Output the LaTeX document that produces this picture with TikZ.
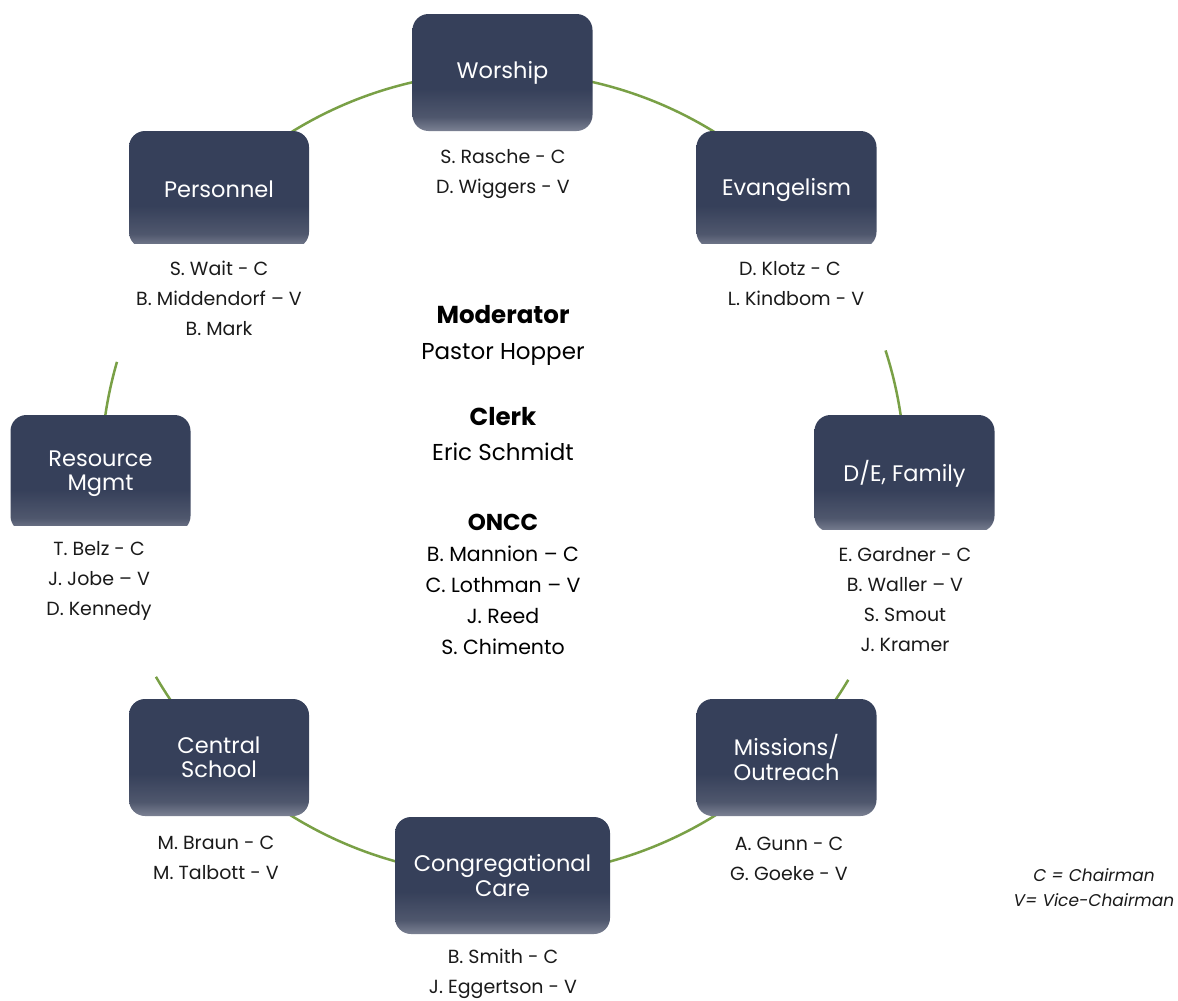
\documentclass[tikz,border=0pt]{standalone}
\usepackage{fontspec}
\setmainfont{Poppins}
\definecolor{boxdark}{HTML}{36405A}
\definecolor{boxmid}{HTML}{4F576D}
\definecolor{boxlight}{HTML}{7B8193}
\definecolor{ringgreen}{HTML}{79A046}
\definecolor{inktext}{HTML}{1A1A1A}
\pgfdeclareverticalshading{boxshade}{100bp}{color(0bp)=(boxlight); color(25bp)=(boxlight); color(31bp)=(boxmid); color(43bp)=(boxdark); color(100bp)=(boxdark)}
\begin{document}
\begin{tikzpicture}[x=1pt,y=1pt,
  committee/.style={rounded corners=16pt, shading=boxshade, minimum width=180pt, minimum height=117pt, text=white, align=center, font=\fontsize{22.5}{24.5}\selectfont, inner sep=0pt},
  members/.style={align=center, font=\fontsize{19}{30}\selectfont, text=inktext, inner sep=0pt},
  officer/.style={align=center, text=black, inner sep=0pt},
  ring/.style={draw=ringgreen, line width=2.5pt},
  legendtext/.style={align=center, font=\fontsize{17}{25}\selectfont\itshape, text=inktext, inner sep=0pt}]
\useasboundingbox (0,0) rectangle (1178,-1001);
\coordinate (ctr) at (503,-474);

% ring segments
\draw[ring] ([shift={(45:402pt)}]ctr) arc[start angle=45,end angle=135,radius=402pt];
\draw[ring] ([shift={(163.8:402pt)}]ctr) arc[start angle=163.8,end angle=180,radius=402pt];
\draw[ring] ([shift={(210.3:402pt)}]ctr) arc[start angle=210.3,end angle=315,radius=402pt];
\draw[ring] ([shift={(315:402pt)}]ctr) arc[start angle=315,end angle=329.2,radius=402pt];
\draw[ring] ([shift={(0:402pt)}]ctr) arc[start angle=0,end angle=17.9,radius=402pt];

% committee boxes
\node[committee] (worship) at (502.5,-72.5) {\raisebox{-3pt}{Worship}};
\node[committee] (evang) at (786.5,-189.5) {\raisebox{-3pt}{Evangelism}};
\node[committee] (pers) at (219,-189.5) {\raisebox{-3pt}{Personnel}};
\node[committee] (res) at (100.5,-473.5) {Resource\\Mgmt};
\node[committee] (de) at (904.5,-473.5) {\raisebox{-2pt}{D/E, Family}};
\node[committee] (cs) at (219,-757.5) {Central\\School};
\node[committee] (miss) at (786.5,-757.5) {Missions/\\Outreach};
\node[committee, minimum width=215pt] (care) at (502.5,-875.5) {Congregational\\Care};

% flat cut bottoms where the member lists overlap
\fill[white] ([xshift=-1pt,yshift=4pt]pers.south west) rectangle ([xshift=1pt,yshift=-2pt]pers.south east);
\fill[white] ([xshift=-1pt,yshift=4pt]evang.south west) rectangle ([xshift=1pt,yshift=-2pt]evang.south east);
\fill[white] ([xshift=-1pt,yshift=6.5pt]res.south west) rectangle ([xshift=1pt,yshift=-2pt]res.south east);
\fill[white] ([xshift=-1pt,yshift=2pt]de.south west) rectangle ([xshift=1pt,yshift=-2pt]de.south east);

% member lists
\node[members] (worshipm) at (503,-174.5) {S. Rasche - C\\D. Wiggers - V};
\node[members] (evangm) at (790,-283.5) {D. Klotz - C\\\hspace{12pt}L. Kindbom - V};
\node[members] (persm) at (219,-298.5) {S. Wait - C\\B. Middendorf – V\\B. Mark};
\node[members] (resm) at (99,-580.5) {T. Belz - C\\J. Jobe – V\\D. Kennedy};
\node[members] (dem) at (905,-599.5) {E. Gardner - C\\B. Waller – V\\S. Smout\\J. Kramer};
\node[members] (csm) at (216,-857.5) {M. Braun - C\\M. Talbott - V};
\node[members] (missm) at (789,-859) {A. Gunn - C\\G. Goeke - V};
\node[members] (carem) at (503,-973.5) {B. Smith - C\\J. Eggertson - V};

% officers in the centre
\node[officer, font=\fontsize{23}{36}\selectfont] (moderator) at (503,-335.5) {\textbf{\fontsize{24.5}{36}\selectfont Moderator}\\Pastor Hopper};
\node[officer, font=\fontsize{23}{35}\selectfont] (clerk) at (503,-434) {\textbf{\fontsize{24.5}{35}\selectfont Clerk}\\Eric Schmidt};
\node[officer, font=\fontsize{20.5}{31}\selectfont] (oncc) at (503,-584.5) {\textbf{\fontsize{23}{31}\selectfont ONCC}\\B. Mannion – C\\C. Lothman – V\\J. Reed\\S. Chimento};

% legend
\node[legendtext] (legend) at (1094,-887.5) {C = Chairman\\V= Vice-Chairman};
\end{tikzpicture}
\end{document}
